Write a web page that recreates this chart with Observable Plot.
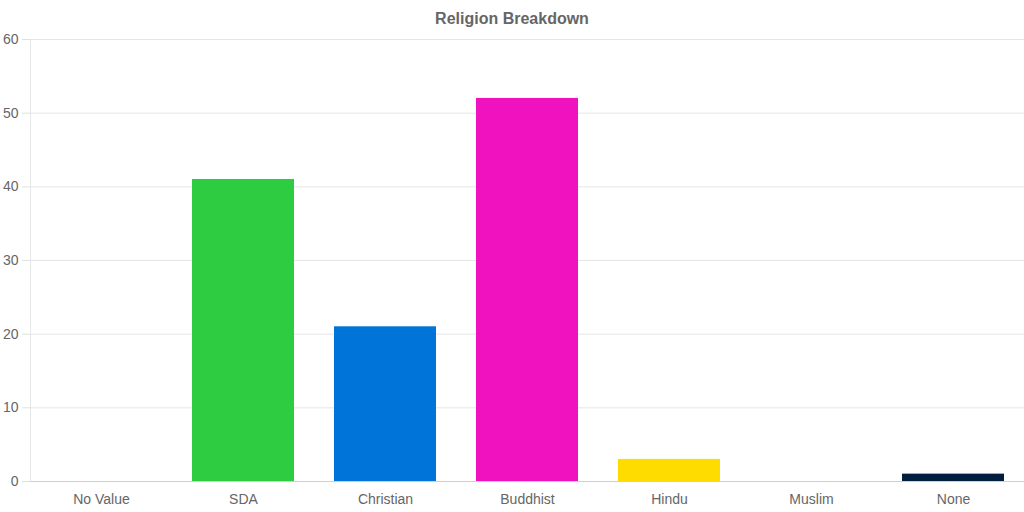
<!DOCTYPE html>
<html><head><meta charset="utf-8">
<script src="https://cdn.jsdelivr.net/npm/d3@7"></script>
<script src="https://cdn.jsdelivr.net/npm/@observablehq/plot@0.6"></script>
<style>
html,body{margin:0;padding:0;background:#fff;}
#title{height:30px;overflow:hidden;text-align:center;font:bold 16px "Liberation Sans",Arial,sans-serif;line-height:37px;color:#666;}
</style></head>
<body>
<div id="title">Religion Breakdown</div>
<div id="chart"></div>
<script>
const categories = ["No Value","SDA","Christian","Buddhist","Hindu","Muslim","None"];
const values = [0,41,21,52,3,0,1];
const colors = ["#cccccc","#2ECC40","#0074D9","#F012BE","#FFDC00","#85144b","#001f3f"];
const yTicks = [0,10,20,30,40,50,60];

const data = categories.map((c,i)=>({category:c,value:values[i],color:colors[i]}));

const chart = Plot.plot({
  width:1024, height:482,
  marginTop:9, marginBottom:31, marginLeft:30, marginRight:0,
  style:{fontFamily:'"Liberation Sans",Arial,sans-serif', fontSize:"14px", color:"#666", background:"#fff"},
  x:{domain:categories, paddingInner:0.28, paddingOuter:0.14, label:null},
  y:{domain:[0,60], label:null},
  marks:[
    Plot.gridY(yTicks,{stroke:"#e6e6e6", strokeOpacity:1}),
    Plot.frame({anchor:"left", stroke:"#e6e6e6"}),
    Plot.barY(data,{x:"category", y:"value", fill:"color"}),
    Plot.ruleY([0],{stroke:"#cfcfcf"}),
    Plot.axisX({tickSize:0, tickPadding:13, fill:"#666", fontSize:14}),
    Plot.axisY(yTicks,{tickSize:8, tickPadding:4, stroke:"#e0e0e0", fill:"#666", fontSize:14})
  ]
});
document.getElementById("chart").appendChild(chart);
</script>
</body></html>
